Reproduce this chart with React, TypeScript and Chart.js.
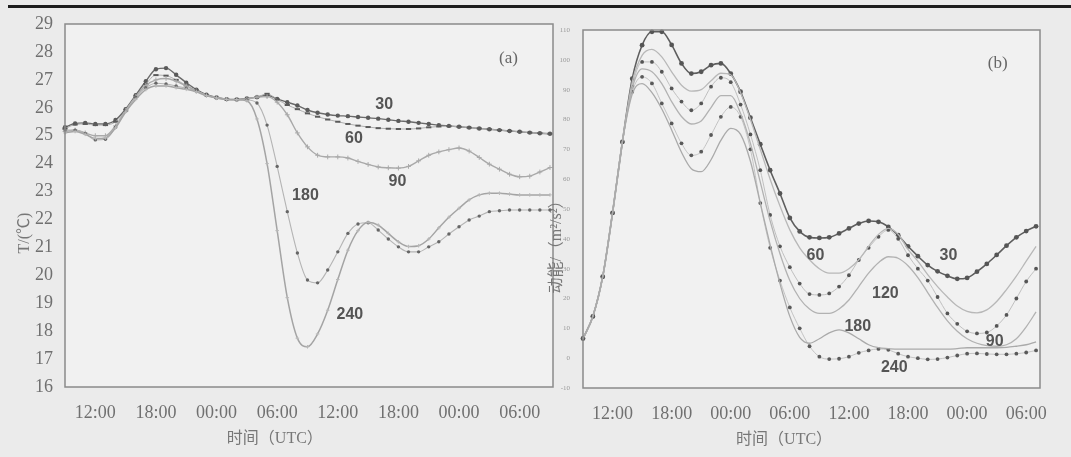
import React, { useEffect, useRef } from "react";
import { Chart, registerables } from "chart.js";

Chart.register(...registerables);

// ---------- shared time axis ----------
const timeTickValues = [12, 18, 24, 30, 36, 42, 48, 54];
const timeTickLabels = ["12:00", "18:00", "00:00", "06:00", "12:00", "18:00", "00:00", "06:00"];

// ---------- panel (a): temperature, hourly from t=9 h to t=57 h ----------
const hoursA = Array.from({ length: 49 }, (_, i) => 9 + i);
const tempTicks = [16, 17, 18, 19, 20, 21, 22, 23, 24, 25, 26, 27, 28, 29];

const temp30 = [25.3, 25.44, 25.46, 25.42, 25.42, 25.56, 25.95, 26.45, 26.95, 27.38, 27.42, 27.18, 26.9, 26.65, 26.47, 26.37, 26.31, 26.3, 26.33, 26.38, 26.45, 26.32, 26.2, 26.08, 25.92, 25.82, 25.76, 25.72, 25.7, 25.67, 25.64, 25.61, 25.57, 25.53, 25.5, 25.46, 25.42, 25.38, 25.35, 25.32, 25.29, 25.26, 25.23, 25.2, 25.17, 25.14, 25.11, 25.09, 25.07];
const temp60 = [25.25, 25.4, 25.42, 25.38, 25.38, 25.5, 25.9, 26.4, 26.85, 27.17, 27.15, 27.0, 26.8, 26.62, 26.45, 26.36, 26.3, 26.29, 26.32, 26.38, 26.5, 26.3, 26.1, 25.95, 25.8, 25.68, 25.58, 25.5, 25.42, 25.36, 25.31, 25.27, 25.25, 25.24, 25.24, 25.26, 25.3, 25.33, 25.34, 25.32, 25.29, 25.26, 25.23, 25.2, 25.17, 25.14, 25.11, 25.09, 25.07];
const temp90 = [25.15, 25.2, 25.1, 25.0, 25.0, 25.35, 25.9, 26.4, 26.8, 27.0, 27.05, 26.95, 26.78, 26.6, 26.45, 26.36, 26.3, 26.29, 26.32, 26.38, 26.4, 26.2, 25.75, 25.1, 24.6, 24.3, 24.24, 24.24, 24.2, 24.08, 23.97, 23.88, 23.85, 23.84, 23.9, 24.1, 24.3, 24.42, 24.5, 24.56, 24.45, 24.22, 23.98, 23.8, 23.62, 23.53, 23.55, 23.7, 23.86];
const temp180 = [25.2, 25.2, 25.08, 24.85, 24.87, 25.3, 25.88, 26.38, 26.72, 26.88, 26.85, 26.78, 26.7, 26.6, 26.45, 26.36, 26.3, 26.29, 26.28, 26.17, 25.38, 23.9, 22.28, 20.8, 19.83, 19.73, 20.19, 20.84, 21.5, 21.84, 21.88, 21.62, 21.3, 21.02, 20.84, 20.84, 21.02, 21.2, 21.48, 21.74, 21.98, 22.12, 22.28, 22.31, 22.34, 22.34, 22.34, 22.34, 22.34];
const temp240 = [25.1, 25.15, 25.05, 24.9, 24.92, 25.28, 25.85, 26.3, 26.65, 26.78, 26.78, 26.72, 26.66, 26.57, 26.43, 26.35, 26.3, 26.29, 26.25, 25.6, 24.0, 21.6, 19.2, 17.75, 17.44, 17.9, 18.75, 19.85, 20.9, 21.6, 21.9, 21.8, 21.5, 21.2, 21.03, 21.06, 21.3, 21.7, 22.08, 22.4, 22.7, 22.88, 22.94, 22.94, 22.91, 22.88, 22.88, 22.88, 22.88];

const tempLabelText = ["30", "60", "90", "180", "240"];
const tempLabelT = [40.6, 37.6, 41.9, 32.8, 37.2];
const tempLabelV = [26.13, 24.88, 23.34, 22.84, 18.58];

// ---------- panel (b): kinetic energy, hourly from t=9 h to t=55 h ----------
const hoursB = Array.from({ length: 47 }, (_, i) => 9 + i);
const keTicks = [-10, 0, 10, 20, 30, 40, 50, 60, 70, 80, 90, 100, 110];

const ke30 = [6.6, 14, 27.3, 48.7, 72.5, 93.7, 104.9, 109.4, 109.4, 105, 98.8, 95.4, 96, 98.2, 98.8, 95.4, 89.3, 80.6, 71.7, 63, 55.2, 47, 42.5, 40.5, 40.3, 40.5, 41.8, 43.5, 45.1, 46, 45.7, 44, 41.2, 37.5, 34.2, 31.2, 29.1, 27.6, 26.6, 26.9, 29, 31.6, 34.6, 37.7, 40.5, 42.6, 44.2];
const ke60 = [6.6, 14, 27.3, 48.7, 72.5, 92.5, 101.5, 103.5, 101, 96, 91.5, 89.5, 90, 93, 95.5, 95, 89, 80, 70, 60, 51, 43, 37, 33, 30, 28.5, 28.5, 30, 33, 37.5, 41.5, 43.5, 41.5, 36.5, 32.5, 28, 24, 20.5, 17.5, 15.7, 15.2, 16.2, 19, 23, 27.5, 32.5, 37.5];
const ke90 = [6.6, 14, 27.3, 48.7, 72.5, 91, 99.3, 99.3, 96, 90.4, 86, 83.1, 85.4, 91, 94, 92.5, 85, 75, 63, 48, 37.5, 30.5, 25, 21.5, 21.2, 21.7, 24, 27.8, 32.9, 37, 40.7, 43, 40, 34.5, 30, 26, 20.5, 15, 11.5, 9, 8.3, 8.6, 10.8, 14.5, 20, 25.7, 30];
const ke120 = [6.6, 14, 27.3, 48.7, 72.5, 90.5, 97, 96, 92, 86, 81, 78.5, 79.5, 84, 88, 88, 82, 72, 59, 46, 35, 26, 20, 16.5, 15, 15, 16.5, 19.5, 24, 28.5, 32, 34, 33.5, 31, 27, 22, 17, 12.5, 9, 6.5, 5, 4.2, 4, 4.5, 6.5, 10.5, 15.5];
const ke180 = [6.6, 14, 27.3, 48.7, 72.5, 88.5, 92, 89, 83.5, 76.5, 69, 63.5, 62.5, 66.5, 73, 77, 75, 66, 52, 38, 25, 14, 7, 5, 6.5, 8.5, 9.5, 8.5, 6.5, 4.5, 3.5, 3.2, 3, 3, 3, 3, 3, 3, 3.2, 3.5, 3.5, 3.5, 3.5, 3.6, 4, 4.5, 5.5];
const ke240 = [6.6, 14, 27.3, 48.7, 72.5, 89.3, 94.3, 92.1, 85.4, 78.7, 72, 68, 69.2, 74.8, 80.9, 84.2, 80.9, 70, 52, 37, 26, 17, 10, 4, 0.5, -0.3, -0.2, 0.5, 1.8, 2.6, 3.1, 2.8, 1.5, 0.5, 0, -0.4, -0.3, 0.2, 0.9, 1.5, 1.6, 1.4, 1.3, 1.3, 1.5, 1.9, 2.6];

const keLabelText = ["60", "30", "120", "180", "90", "240"];
const keLabelT = [32.6, 46.1, 39.7, 36.9, 50.8, 40.6];
const keLabelV = [34.5, 34.5, 21.8, 10.7, 5.7, -3];

// ---------- styling ----------
const SERIF = "'Liberation Serif', 'Noto Sans CJK SC', serif";
const SANS_BOLD = "bold 16px 'Liberation Sans', Arial, sans-serif";
const TICK_COLOR = "#707070";

const decorPlugin = {
  id: "decor",
  beforeDraw(chart: any, _args: any, opts: any) {
    const { ctx, chartArea: a } = chart;
    ctx.save();
    ctx.fillStyle = opts.plotFill;
    ctx.fillRect(a.left, a.top, a.right - a.left, a.bottom - a.top);
    ctx.restore();
  },
  afterDraw(chart: any, _args: any, opts: any) {
    const { ctx, chartArea: a, scales } = chart;
    ctx.save();
    ctx.strokeStyle = opts.boxColor;
    ctx.lineWidth = opts.boxWidth;
    ctx.strokeRect(a.left, a.top, a.right - a.left, a.bottom - a.top);

    ctx.textAlign = "center";
    ctx.textBaseline = "middle";
    ctx.font = SANS_BOLD;
    ctx.fillStyle = "#555";
    const texts: string[] = opts.labelText;
    for (let i = 0; i < texts.length; i++) {
      ctx.fillText(texts[i], scales.x.getPixelForValue(opts.labelT[i]), scales.y.getPixelForValue(opts.labelV[i]));
    }
    ctx.font = `17px ${SERIF}`;
    ctx.fillStyle = "#666";
    ctx.fillText(opts.tag, scales.x.getPixelForValue(opts.tagT), scales.y.getPixelForValue(opts.tagV));

    ctx.font = `16px ${SERIF}`;
    ctx.fillStyle = "#777";
    ctx.fillText(opts.xTitle, a.left + opts.xTitleFrac * (a.right - a.left), opts.xTitleY);
    ctx.translate(opts.yTitleX, opts.yTitleY);
    ctx.rotate(-Math.PI / 2);
    ctx.fillText(opts.yTitle, 0, 0);
    ctx.restore();
  },
};

function timeAxis(min: number, max: number, height: number) {
  return {
    type: "linear" as const,
    min,
    max,
    afterBuildTicks: (s: any) => {
      s.ticks = timeTickValues.map((v) => ({ value: v }));
    },
    afterFit: (s: any) => {
      s.height = height;
    },
    ticks: {
      autoSkip: false,
      maxRotation: 0,
      padding: 7,
      color: TICK_COLOR,
      font: { family: SERIF, size: 18 },
      callback: (v: any) => timeTickLabels[timeTickValues.indexOf(Number(v))],
    },
    grid: { display: false },
    border: { display: false },
  };
}

function pts(hours: number[], vals: number[]) {
  return vals.map((v, i) => ({ x: hours[i], y: v }));
}

const baseLine = { cubicInterpolationMode: "monotone" as const, clip: false as const };

export default function App() {
  const refA = useRef<HTMLCanvasElement>(null);
  const refB = useRef<HTMLCanvasElement>(null);

  useEffect(() => {
    const chartA = new Chart(refA.current!, {
      type: "line",
      data: {
        datasets: [
          { ...baseLine, data: pts(hoursA, temp240), borderColor: "#a4a4a4", borderWidth: 1.5, pointRadius: 1.8, pointStyle: "cross", pointBorderColor: "#b8b8b8", pointBorderWidth: 1 },
          { ...baseLine, data: pts(hoursA, temp180), borderColor: "#b4b4b4", borderWidth: 1.1, pointRadius: 1.7, pointBackgroundColor: "#666", pointBorderColor: "#666", pointBorderWidth: 0 },
          { ...baseLine, data: pts(hoursA, temp90), borderColor: "#a9a9a9", borderWidth: 1.4, pointRadius: 2.4, pointStyle: "cross", pointBorderColor: "#aaa", pointBorderWidth: 1 },
          { ...baseLine, data: pts(hoursA, temp60), borderColor: "#b0b0b0", borderWidth: 1, pointRadius: 2.6, pointStyle: "line", pointBorderColor: "#5a5a5a", pointBorderWidth: 2 },
          { ...baseLine, data: pts(hoursA, temp30), borderColor: "#6a6a6a", borderWidth: 1.4, pointRadius: 2.2, pointBackgroundColor: "#5a5a5a", pointBorderColor: "#5a5a5a", pointBorderWidth: 0 },
        ],
      },
      options: {
        responsive: false,
        animation: false,
        devicePixelRatio: 1,
        layout: { padding: { left: 0, right: 7, top: 24, bottom: 0 } },
        plugins: {
          legend: { display: false },
          tooltip: { enabled: false },
          decor: {
            plotFill: "#f1f1f1",
            boxColor: "#8a8a8a",
            boxWidth: 1.5,
            labelText: tempLabelText,
            labelT: tempLabelT,
            labelV: tempLabelV,
            tag: "(a)",
            tagT: 52.9,
            tagV: 27.78,
            xTitle: "时间（UTC）",
            xTitleFrac: 0.43,
            xTitleY: 439,
            yTitle: "T/(℃)",
            yTitleX: 25,
            yTitleY: 233,
          },
        } as any,
        scales: {
          x: timeAxis(9, 57.3, 70) as any,
          y: {
            type: "linear",
            min: 16,
            max: 29,
            afterBuildTicks: (s: any) => {
              s.ticks = tempTicks.map((v) => ({ value: v }));
            },
            afterFit: (s: any) => {
              s.width = 65;
            },
            ticks: { padding: 4, color: TICK_COLOR, font: { family: SERIF, size: 18 } },
            grid: { display: false },
            border: { display: false },
          } as any,
        },
      },
      plugins: [decorPlugin as any],
    });

    const chartB = new Chart(refB.current!, {
      type: "line",
      data: {
        datasets: [
          { ...baseLine, data: pts(hoursB, ke180), borderColor: "#aaaaaa", borderWidth: 1.3, pointRadius: 0 },
          { ...baseLine, data: pts(hoursB, ke120), borderColor: "#b2b2b2", borderWidth: 1.3, pointRadius: 0 },
          { ...baseLine, data: pts(hoursB, ke60), borderColor: "#b8b8b8", borderWidth: 1.3, pointRadius: 0 },
          { ...baseLine, data: pts(hoursB, ke240), borderColor: "#c4c4c4", borderWidth: 1, pointRadius: 1.9, pointBackgroundColor: "#5a5a5a", pointBorderColor: "#5a5a5a", pointBorderWidth: 0 },
          { ...baseLine, data: pts(hoursB, ke90), borderColor: "#c0c0c0", borderWidth: 1, pointRadius: 1.9, pointBackgroundColor: "#555", pointBorderColor: "#555", pointBorderWidth: 0 },
          { ...baseLine, data: pts(hoursB, ke30), borderColor: "#5e5e5e", borderWidth: 1.6, pointRadius: 2.4, pointBackgroundColor: "#555", pointBorderColor: "#555", pointBorderWidth: 0 },
        ],
      },
      options: {
        responsive: false,
        animation: false,
        devicePixelRatio: 1,
        layout: { padding: { left: 0, right: 31, top: 30, bottom: 0 } },
        plugins: {
          legend: { display: false },
          tooltip: { enabled: false },
          decor: {
            plotFill: "#f1f1f1",
            boxColor: "#8a8a8a",
            boxWidth: 1.5,
            labelText: keLabelText,
            labelT: keLabelT,
            labelV: keLabelV,
            tag: "(b)",
            tagT: 51.1,
            tagV: 98.9,
            xTitle: "时间（UTC）",
            xTitleFrac: 0.44,
            xTitleY: 440,
            yTitle: "动能/（m²/s²）",
            yTitleX: 17,
            yTitleY: 243,
          },
        } as any,
        scales: {
          x: timeAxis(9, 55.4, 69) as any,
          y: {
            type: "linear",
            min: -10,
            max: 110,
            afterBuildTicks: (s: any) => {
              s.ticks = keTicks.map((v) => ({ value: v }));
            },
            afterFit: (s: any) => {
              s.width = 43;
            },
            ticks: { padding: 5, color: "#9a9a9a", font: { family: SERIF, size: 7 } },
            grid: { display: false },
            border: { display: false },
          } as any,
        },
      },
      plugins: [decorPlugin as any],
    });

    return () => {
      chartA.destroy();
      chartB.destroy();
    };
  }, []);

  return (
    <div style={{ position: "fixed", left: 0, top: 0, width: 1071, height: 457, background: "#ebebeb", overflow: "hidden" }}>
      <div style={{ position: "absolute", left: 8, top: 5, width: 1063, height: 3, background: "#1e1e1e" }} />
      <canvas ref={refA} width={560} height={457} style={{ position: "absolute", left: 0, top: 0, width: 560, height: 457, filter: "blur(0.4px)" }} />
      <canvas ref={refB} width={531} height={457} style={{ position: "absolute", left: 540, top: 0, width: 531, height: 457, filter: "blur(0.4px)" }} />
    </div>
  );
}
